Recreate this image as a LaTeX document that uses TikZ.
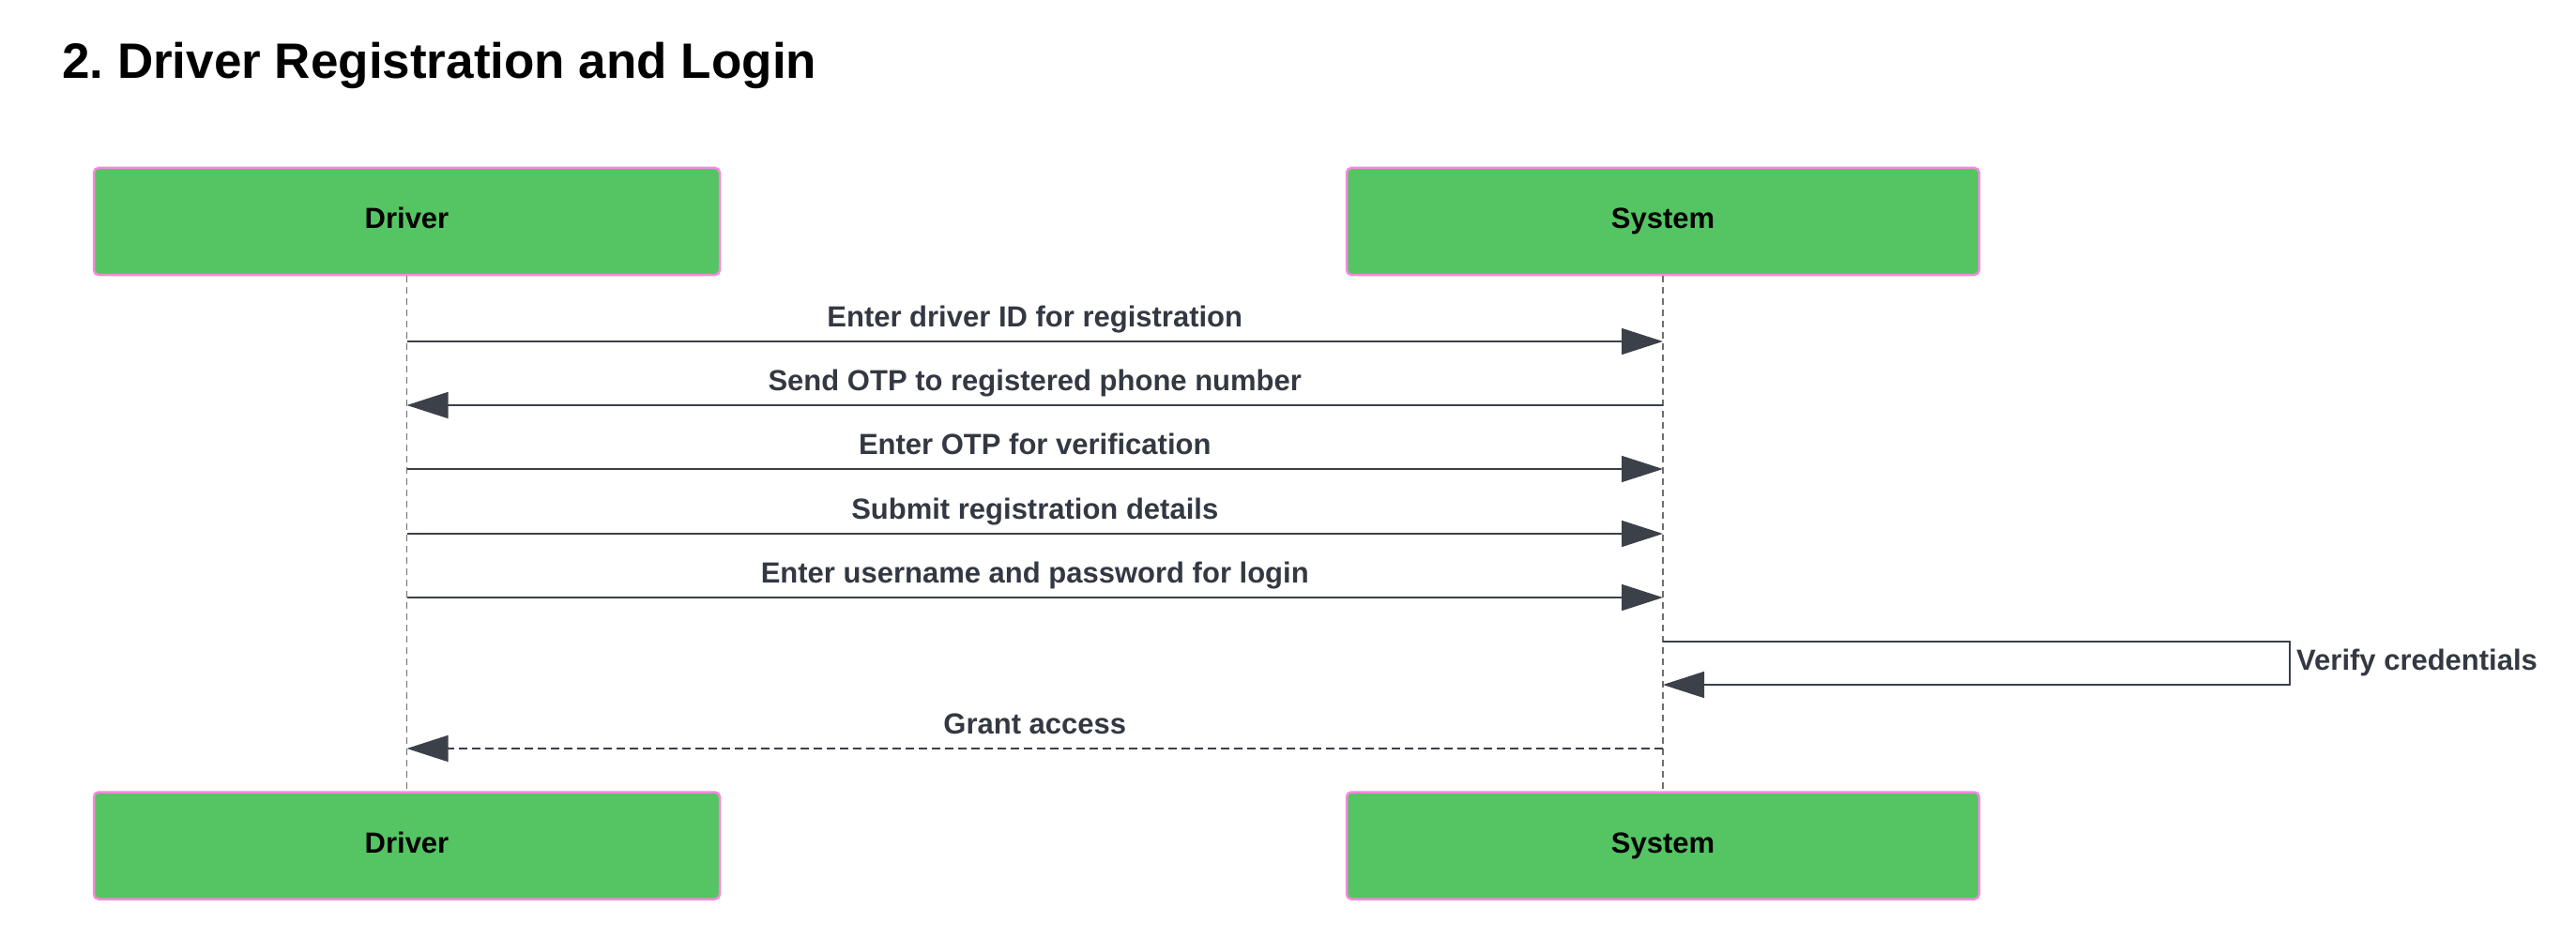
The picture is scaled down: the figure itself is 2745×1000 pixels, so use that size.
\documentclass[tikz,border=0pt]{standalone}
\usepackage{fontspec}
\setmainfont{Liberation Sans}
\usetikzlibrary{arrows.meta}
\definecolor{boxgreen}{RGB}{84,197,98}
\definecolor{boxpink}{RGB}{245,138,220}
\definecolor{msgline}{RGB}{59,64,73}
\definecolor{msgtext}{RGB}{51,56,66}
\definecolor{lifegray}{RGB}{110,110,110}
\begin{document}
\frenchspacing
\begin{tikzpicture}[x=1pt,y=-1pt,
  actorbox/.style={draw=boxpink,line width=2.5pt,fill=boxgreen,rounded corners=5pt,
    minimum width=665pt,minimum height=114pt,inner sep=0pt,text height=22pt,text depth=7pt,
    font=\fontsize{31}{36}\selectfont\bfseries,text=black},
  lifeline/.style={draw=lifegray,line width=1.5pt,dash pattern=on 7pt off 5pt},
  msg/.style={draw=msgline,line width=1.5pt,-{Triangle[length=44pt,width=28pt]}},
  reply/.style={msg,dash pattern=on 9pt off 5pt},
  msglabel/.style={anchor=base,inner sep=0pt,text=msgtext,font=\fontsize{31}{36}\selectfont\bfseries},
  abovelabel/.style={msglabel,yshift=16pt}
]
\useasboundingbox (0,0) rectangle (2745,1000);
\node[anchor=base west,inner sep=0pt,font=\fontsize{53}{60}\selectfont\bfseries] (title) at (66,84) {2. Driver Registration and Login};
% actors
\node[actorbox,minimum width=667pt] (dt) at (433.5,236) {Driver};
\node[actorbox,minimum width=674pt] (st) at (1772,236) {System};
\node[actorbox,minimum width=667pt] (db) at (433.5,901.5) {Driver};
\node[actorbox,minimum width=674pt] (sb) at (1772,901.5) {System};
% lifelines
\draw[lifeline] (dt.south) -- (db.north);
\draw[lifeline] (st.south) -- (sb.north);
% message anchor points
\foreach \n/\y in {1/364,2/432,3/500,4/569,5/637,7/798}{
  \coordinate (d\n) at (dt.south |- 0,\y);
  \coordinate (s\n) at (st.south |- 0,\y);
}
\coordinate (v1) at (st.south |- 0,684);
\coordinate (v2) at (2440,684);
\coordinate (v3) at (2440,730);
\coordinate (v4) at (st.south |- 0,730);
% messages
\draw[msg] (d1) -- node[abovelabel] {Enter driver ID for registration} (s1);
\draw[msg] (s2) -- node[abovelabel] {Send OTP to registered phone number} (d2);
\draw[msg] (d3) -- node[abovelabel] {Enter OTP for verification} (s3);
\draw[msg] (d4) -- node[abovelabel] {Submit registration details} (s4);
\draw[msg] (d5) -- node[abovelabel] {Enter username and password for login} (s5);
\draw[msg] (v1) -- (v2) -- (v3) -- (v4);
\node[msglabel,anchor=base west] (vlabel) at (2447,714) {Verify credentials};
\draw[reply] (s7) -- node[abovelabel] {Grant access} (d7);
\end{tikzpicture}
\end{document}
